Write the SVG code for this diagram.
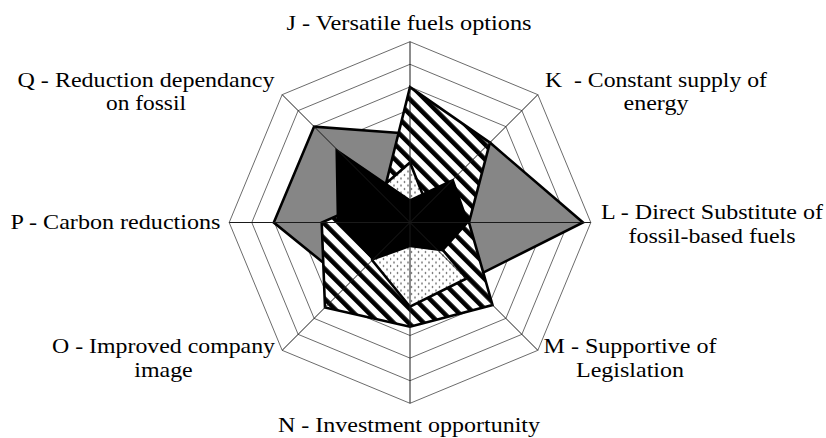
<svg xmlns="http://www.w3.org/2000/svg" width="826" height="438" viewBox="0 0 826 438">
  <style>
    .ring { fill: none; stroke: #5a5a5a; stroke-width: 0.9; }
    .spoke { stroke: #1a1a1a; stroke-width: 1; }
    .series { stroke: #000; stroke-width: 2.6; stroke-linejoin: miter; }
    .lbl { font-family: "Liberation Serif", "Times New Roman", serif; font-size: 22px; fill: #000; text-anchor: middle; }
  </style>
  <defs>
    <!-- fine grey checker -->
    <pattern id="checker" width="2" height="2" patternUnits="userSpaceOnUse">
      <rect width="2" height="2" fill="#cfcfcf"/>
      <rect width="1" height="1" fill="#3c3c3c"/>
      <rect x="1" y="1" width="1" height="1" fill="#3c3c3c"/>
    </pattern>
    <!-- wide diagonal stripes -->
    <pattern id="stripes" width="10.6" height="10.6" patternUnits="userSpaceOnUse" patternTransform="rotate(-45)">
      <rect width="10.6" height="10.6" fill="#fff"/>
      <rect width="4.6" height="10.6" fill="#000"/>
    </pattern>
    <!-- sparse dots -->
    <pattern id="dots" width="7" height="7" patternUnits="userSpaceOnUse">
      <rect width="7" height="7" fill="#fff"/>
      <circle cx="1.5" cy="1.5" r="0.8" fill="#222"/>
      <circle cx="5" cy="5" r="0.8" fill="#222"/>
    </pattern>
  </defs>

  <g id="chart" transform="translate(410 222.5)">
    <!-- octagonal grid rings -->
    <g id="grid">
      <polygon class="ring" points="0,-22.6 15.98,-15.98 22.6,0 15.98,15.98 0,22.6 -15.98,15.98 -22.6,0 -15.98,-15.98"/>
      <polygon class="ring" points="0,-45.2 31.96,-31.96 45.2,0 31.96,31.96 0,45.2 -31.96,31.96 -45.2,0 -31.96,-31.96"/>
      <polygon class="ring" points="0,-67.8 47.94,-47.94 67.8,0 47.94,47.94 0,67.8 -47.94,47.94 -67.8,0 -47.94,-47.94"/>
      <polygon class="ring" points="0,-90.4 63.92,-63.92 90.4,0 63.92,63.92 0,90.4 -63.92,63.92 -90.4,0 -63.92,-63.92"/>
      <polygon class="ring" points="0,-113 79.9,-79.9 113,0 79.9,79.9 0,113 -79.9,79.9 -113,0 -79.9,-79.9"/>
      <polygon class="ring" points="0,-135.6 95.88,-95.88 135.6,0 95.88,95.88 0,135.6 -95.88,95.88 -135.6,0 -95.88,-95.88"/>
      <polygon class="ring" points="0,-158.2 111.86,-111.86 158.2,0 111.86,111.86 0,158.2 -111.86,111.86 -158.2,0 -111.86,-111.86"/>
      <polygon class="ring" points="0,-180.8 127.84,-127.84 180.8,0 127.84,127.84 0,180.8 -127.84,127.84 -180.8,0 -127.84,-127.84"/>
    </g>

    <!-- data series, drawn back to front -->
    <g id="series">
      <polygon id="series-grey" class="series" fill="url(#checker)" points="0,-88.7 79.9,-79.9 173,0 57.8,57.8 0,80 -61,61 -136.2,0 -95.9,-95.9"/>
      <polygon id="series-striped" class="series" fill="url(#stripes)" points="0,-135.4 79.9,-79.9 59,0 82.5,82.5 0,104.2 -85,85 -88.3,0 -27,-27"/>
      <polygon id="series-dotted" class="series" stroke-width="2.2" fill="url(#dots)" points="0,-60 17.1,-17.1 10,0 56.5,56 0,84.2 -37.8,37.8 -40,0 -32,-32"/>
      <polygon id="series-black" fill="#000" points="-74.6,-74.6 0,-23.5 43.5,-44 59,0 33,29 0,24.8 -37,38 -73.3,0"/>
    </g>

    <!-- category spokes -->
    <g id="spokes">
      <line class="spoke" x1="0" y1="0" x2="0" y2="-180.8"/>
      <line class="spoke" x1="0" y1="0" x2="127.84" y2="-127.84"/>
      <line class="spoke" x1="0" y1="0" x2="180.8" y2="0"/>
      <line class="spoke" x1="0" y1="0" x2="127.84" y2="127.84"/>
      <line class="spoke" x1="0" y1="0" x2="0" y2="180.8"/>
      <line class="spoke" x1="0" y1="0" x2="-127.84" y2="127.84"/>
      <line class="spoke" x1="0" y1="0" x2="-180.8" y2="0"/>
      <line class="spoke" x1="0" y1="0" x2="-127.84" y2="-127.84"/>
    </g>
  </g>

  <!-- category labels (slightly widened serif) -->
  <g id="labels">
    <g id="label-J"><text class="lbl" x="409" y="30" textLength="245" lengthAdjust="spacingAndGlyphs">J - Versatile fuels options</text></g>
    <g id="label-K"><text class="lbl" x="656" y="87" style="white-space:pre" textLength="222" lengthAdjust="spacingAndGlyphs">K  - Constant supply of</text><text class="lbl" x="656" y="110" textLength="65" lengthAdjust="spacingAndGlyphs">energy</text></g>
    <g id="label-L"><text class="lbl" x="712" y="219" textLength="222" lengthAdjust="spacingAndGlyphs">L - Direct Substitute of</text><text class="lbl" x="712" y="243" textLength="167" lengthAdjust="spacingAndGlyphs">fossil-based fuels</text></g>
    <g id="label-M"><text class="lbl" x="630" y="353" textLength="173" lengthAdjust="spacingAndGlyphs">M - Supportive of</text><text class="lbl" x="630" y="377" textLength="108" lengthAdjust="spacingAndGlyphs">Legislation</text></g>
    <g id="label-N"><text class="lbl" x="409" y="432" textLength="262" lengthAdjust="spacingAndGlyphs">N - Investment opportunity</text></g>
    <g id="label-O"><text class="lbl" x="163.5" y="353" textLength="223" lengthAdjust="spacingAndGlyphs">O - Improved company</text><text class="lbl" x="163.5" y="377" textLength="58.5" lengthAdjust="spacingAndGlyphs">image</text></g>
    <g id="label-P"><text class="lbl" x="115.5" y="229" textLength="210" lengthAdjust="spacingAndGlyphs">P - Carbon reductions</text></g>
    <g id="label-Q"><text class="lbl" x="146" y="87" textLength="257" lengthAdjust="spacingAndGlyphs">Q - Reduction dependancy</text><text class="lbl" x="146" y="110" textLength="80" lengthAdjust="spacingAndGlyphs">on fossil</text></g>
  </g>
</svg>
